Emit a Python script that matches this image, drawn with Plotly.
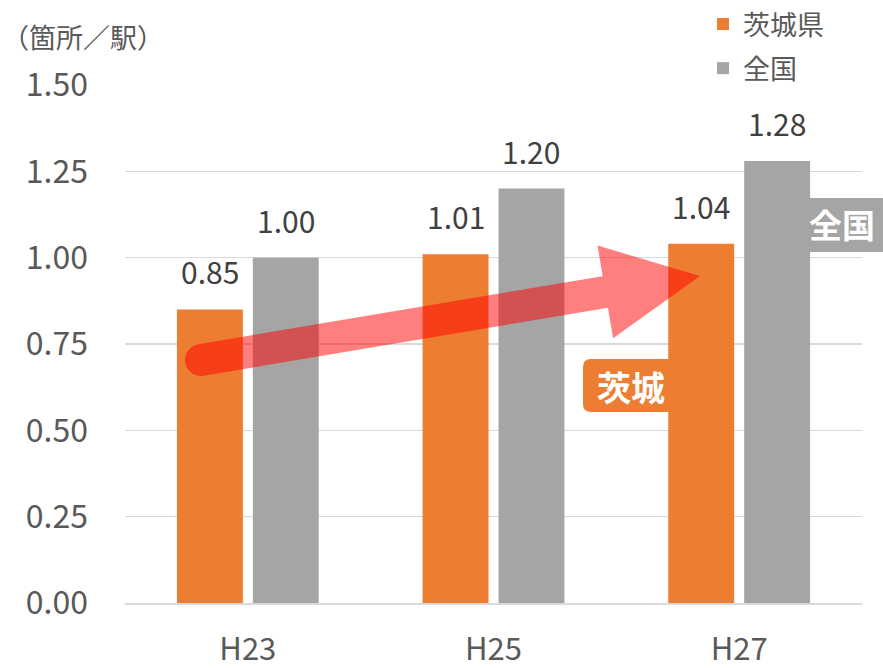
import math
import plotly.graph_objects as go

categories = ["H23", "H25", "H27"]
ibaraki = [0.85, 1.01, 1.04]
national = [1.00, 1.20, 1.28]
series_names = ["茨城県", "全国"]
y_title = "（箇所／駅）"
ticks = [0.0, 0.25, 0.5, 0.75, 1.0, 1.25, 1.5]

ORANGE = "#ED7D31"
GRAY = "#A5A5A5"
FONT = "Noto Sans CJK JP"

W, H = 883, 668
L, R, T, B = 125, 21, 85, 65
PW, PH = W - L - R, H - T - B

BARGAP = 0.382
GROUPGAP = 0.1316


def px(x):
    return (x - L) / PW


def py(y):
    return (H - B - y) / PH


fig = go.Figure()
fig.add_trace(go.Bar(x=categories, y=ibaraki, name=series_names[0],
                     marker=dict(color=ORANGE, line=dict(width=0)),
                     legendgroup="a", hoverinfo="skip"))
fig.add_trace(go.Bar(x=categories, y=national, name=series_names[1],
                     marker=dict(color=GRAY, line=dict(width=0)),
                     legendgroup="b", hoverinfo="skip"))

# value labels, centred over each bar slot of the grouped layout
off = (1 - BARGAP) / 4
annotations = []
for i, v in enumerate(ibaraki):
    annotations.append(dict(x=i - off, y=v, xref="x", yref="y", text=f"{v:.2f}",
                            showarrow=False, yanchor="bottom", yshift=14,
                            font=dict(family=FONT, size=30, color="#404040")))
for i, v in enumerate(national):
    annotations.append(dict(x=i + off, y=v, xref="x", yref="y", text=f"{v:.2f}",
                            showarrow=False, yanchor="bottom", yshift=14,
                            font=dict(family=FONT, size=30, color="#404040")))

# axis unit title
annotations.append(dict(x=px(0), y=py(36), xref="paper", yref="paper", text=y_title,
                        showarrow=False, xanchor="left", yanchor="middle",
                        font=dict(family=FONT, size=27, color="#595959")))

# callout labels
annotations.append(dict(x=px(631), y=py(386), xref="paper", yref="paper", text="<b>茨城</b>",
                        showarrow=False, xanchor="center", yanchor="middle",
                        font=dict(family=FONT, size=34, color="white")))
annotations.append(dict(x=px(807), y=py(224), xref="paper", yref="paper", text="<b>全国</b>",
                        showarrow=False, xanchor="left", yanchor="middle",
                        font=dict(family=FONT, size=33, color="white")))

# arrow geometry (pixel space -> paper)
S = (201.0, 360.0)
Tip = (700.0, 276.0)
r = 16.0
head_half = 47.0
head_len = 96.0
dx, dy = Tip[0] - S[0], Tip[1] - S[1]
ln = math.hypot(dx, dy)
d = (dx / ln, dy / ln)
n = (-d[1], d[0])
if n[1] < 0:
    n = (-n[0], -n[1])
Bc = (Tip[0] - head_len * d[0], Tip[1] - head_len * d[1])


def pt(base, a, va):
    return (base[0] + a * va[0], base[1] + a * va[1])


shaft_top_end = pt(Bc, -r, n)
head_top = pt(Bc, -head_half, n)
head_bot = pt(Bc, head_half, n)
shaft_bot_end = pt(Bc, r, n)
A = pt(S, -r, n)
Cc = pt(S, r, n)
Bk = pt(S, -r, d)
k = 0.5523 * r
c1 = pt(Cc, -k, d)
c2 = pt(Bk, k, n)
c3 = pt(Bk, -k, n)
c4 = pt(A, -k, d)


def P(p):
    return f"{px(p[0]):.5f},{py(p[1]):.5f}"


path = (f"M{P(shaft_top_end)} L{P(head_top)} L{P(Tip)} L{P(head_bot)} L{P(shaft_bot_end)} "
        f"L{P(Cc)} C{P(c1)} {P(c2)} {P(Bk)} C{P(c3)} {P(c4)} {P(A)} Z")

shapes = [
    dict(type="path", xref="paper", yref="paper", layer="between",
         path=(f"M{px(591):.5f},{py(359):.5f} L{px(700):.5f},{py(359):.5f} "
               f"L{px(700):.5f},{py(412):.5f} L{px(591):.5f},{py(412):.5f} "
               f"Q{px(583):.5f},{py(412):.5f} {px(583):.5f},{py(404):.5f} "
               f"L{px(583):.5f},{py(367):.5f} Q{px(583):.5f},{py(359):.5f} {px(591):.5f},{py(359):.5f} Z"),
         fillcolor=ORANGE, line=dict(width=0)),
    dict(type="rect", xref="paper", yref="paper", layer="between",
         x0=px(800), x1=px(900), y0=py(198), y1=py(252),
         fillcolor=GRAY, line=dict(width=0)),
    dict(type="path", xref="paper", yref="paper", layer="above", path=path,
         fillcolor="rgba(255,0,0,0.5)", line=dict(width=0)),
]

fig.update_layout(
    width=W, height=H,
    margin=dict(l=L, r=R, t=T, b=B, pad=0, autoexpand=False),
    paper_bgcolor="white", plot_bgcolor="white",
    barmode="group", bargap=BARGAP, bargroupgap=GROUPGAP,
    font=dict(family=FONT, color="#595959"),
    hovermode=False,
    xaxis=dict(type="category", categoryorder="array", categoryarray=categories,
               range=[-0.5, 2.5], showgrid=False, showline=True,
               linecolor="#D9D9D9", linewidth=1.5, ticks="", ticklabelstandoff=18,
               tickfont=dict(family=FONT, size=31, color="#595959")),
    yaxis=dict(range=[0, 1.5], tickvals=ticks, tickformat=".2f", showgrid=True,
               gridcolor="#D9D9D9", gridwidth=1.5, zeroline=False, showline=False,
               ticks="", ticklabelstandoff=36,
               tickfont=dict(family=FONT, size=32, color="#595959")),
    legend=dict(xref="container", yref="container", x=703 / W, y=1.0,
                xanchor="left", yanchor="top",
                traceorder="grouped", tracegroupgap=6,
                font=dict(family=FONT, size=27, color="#595959"),
                bgcolor="rgba(0,0,0,0)"),
    showlegend=True,
    annotations=annotations,
    shapes=shapes,
)

fig.write_html("out.html", config={"displayModeBar": False, "staticPlot": True},
               post_script="document.body.style.margin='0';document.body.style.overflow='hidden';")
